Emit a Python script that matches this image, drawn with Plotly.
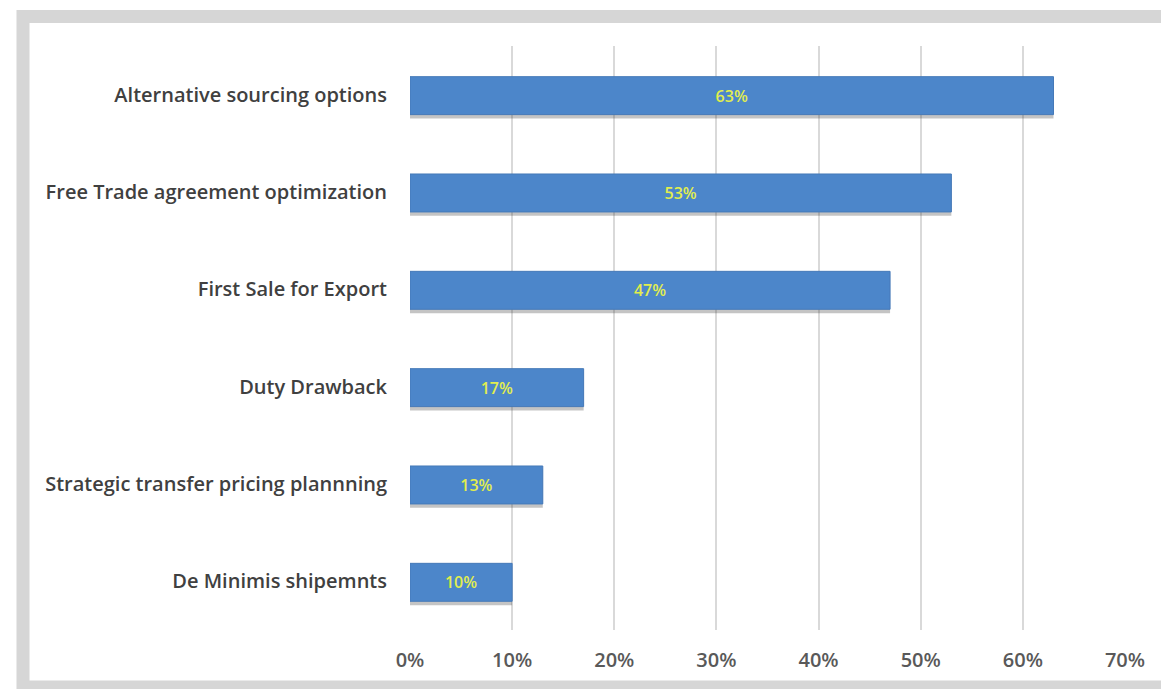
import plotly.graph_objects as go

categories = [
    "Alternative sourcing options",
    "Free Trade agreement optimization",
    "First Sale for Export",
    "Duty Drawback",
    "Strategic transfer pricing plannning",
    "De Minimis shipemnts",
]
values = [63, 53, 47, 17, 13, 10]
labels = [f"{v}%" for v in values]
tick_vals = [0, 10, 20, 30, 40, 50, 60, 70]
tick_text = [f"{t}%" for t in tick_vals]

# page body has an 8px margin, so the figure is offset by 8px
OFF = 8
W, H = 1169 - OFF, 689 - OFF
L, R, T, B = 402, 44, 38, 59
pw, ph = W - L - R, H - T - B

def px(x_page):
    return (x_page - OFF - L) / pw

def py(y_page):
    return (H - B - (y_page - OFF)) / ph

fig = go.Figure()
# soft drop shadow under each bar
fig.add_trace(go.Bar(
    y=categories, x=values, orientation="h",
    width=0.4, offset=-0.245,
    marker=dict(color="rgba(60,60,60,0.30)", line=dict(width=0)),
    hoverinfo="skip",
))
fig.add_trace(go.Bar(
    y=categories, x=values, orientation="h",
    width=0.39, offset=-0.205,
    marker=dict(color="#4C86CA", line=dict(color="#4579B8", width=1)),
    text=labels, textposition="inside", insidetextanchor="middle",
    textfont=dict(family="Open Sans", size=16, color="#E2EE4E", weight=600),
    cliponaxis=False,
))

fig.update_layout(
    width=W, height=H,
    margin=dict(l=L, r=R, t=T, b=B),
    paper_bgcolor="white", plot_bgcolor="white",
    showlegend=False, barmode="overlay",
    font=dict(family="Open Sans", color="#404040"),
    xaxis=dict(
        range=[0, 70], tickvals=tick_vals, ticktext=tick_text,
        showgrid=True, gridcolor="#D9D9D9", gridwidth=1.5,
        zeroline=False, showline=False, ticks="",
        tickfont=dict(family="Open Sans", size=20, color="#595959", weight=600),
        ticklabelstandoff=16,
        fixedrange=True,
    ),
    yaxis=dict(
        categoryorder="array", categoryarray=categories[::-1],
        showgrid=False, zeroline=False, showline=False, ticks="",
        tickfont=dict(family="Open Sans", size=20, color="#404040", weight=600),
        ticklabelstandoff=22,
        fixedrange=True,
    ),
    shapes=[
        dict(type="rect", xref="paper", yref="paper",
             x0=px(23), x1=px(1200), y0=py(16.5), y1=py(687),
             line=dict(color="#D6D6D6", width=13), fillcolor="rgba(0,0,0,0)",
             layer="below"),
    ],
)

fig.write_html("out.html")
